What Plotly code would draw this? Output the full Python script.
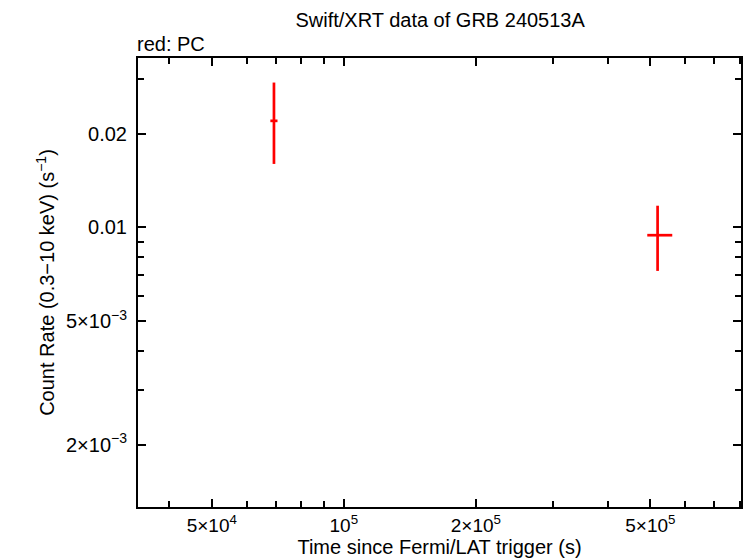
import plotly.graph_objects as go

# Swift/XRT PC mode points
t = [69300, 519400]
t_lo = [68000, 492000]
t_hi = [70600, 561000]
rate = [0.02198, 0.00943]
rate_lo = [0.01598, 0.00724]
rate_hi = [0.02918, 0.01173]

x_tickvals = [5e4, 1e5, 2e5, 5e5]
x_ticktext = ["5×10<sup>4</sup>", "10<sup>5</sup>", "2×10<sup>5</sup>", "5×10<sup>5</sup>"]
y_tickvals = [0.02, 0.01, 0.005, 0.002]
y_ticktext = ["0.02", "0.01", "5×10<sup>−3</sup>", "2×10<sup>−3</sup>"]

FONT = "Liberation Sans, Arial, sans-serif"

fig = go.Figure()
fig.add_trace(
    go.Scatter(
        x=t,
        y=rate,
        mode="markers",
        marker=dict(size=1, color="red"),
        error_x=dict(
            type="data", symmetric=False,
            array=[h - v for h, v in zip(t_hi, t)],
            arrayminus=[v - l for l, v in zip(t_lo, t)],
            color="red", thickness=2.7, width=0,
        ),
        error_y=dict(
            type="data", symmetric=False,
            array=[h - v for h, v in zip(rate_hi, rate)],
            arrayminus=[v - l for l, v in zip(rate_lo, rate)],
            color="red", thickness=2.7, width=0,
        ),
        showlegend=False,
    )
)

axis_common = dict(
    type="log",
    showgrid=False,
    zeroline=False,
    showline=True,
    linecolor="black",
    linewidth=2,
    mirror="allticks",
    ticks="inside",
    ticklen=8,
    tickwidth=2,
    tickcolor="black",
)

fig.update_xaxes(
    **axis_common,
    range=[4.5307, 5.9057],
    tickvals=x_tickvals,
    ticktext=x_ticktext,
    tickfont=dict(family=FONT, size=19, color="black"),
    minor=dict(ticks="inside", ticklen=6, tickwidth=2, tickcolor="black",
               tickvals=[4e4, 6e4, 7e4, 8e4, 9e4, 3e5, 4e5, 6e5, 7e5, 8e5]),
    title=dict(text="Time since Fermi/LAT trigger (s)",
               font=dict(family=FONT, size=20, color="black"), standoff=2),
)
fig.update_yaxes(
    **axis_common,
    range=[-2.899, -1.456],
    tickvals=y_tickvals,
    ticktext=y_ticktext,
    tickfont=dict(family=FONT, size=20, color="black"),
    ticklabelstandoff=5,
    minor=dict(ticks="inside", ticklen=6, tickwidth=2, tickcolor="black",
               tickvals=[0.03, 0.009, 0.008, 0.007, 0.006, 0.004, 0.003]),
    title=dict(text="Count Rate (0.3−10 keV) (s<sup>−1</sup>)",
               font=dict(family=FONT, size=20, color="black"), standoff=6),
)

fig.update_layout(
    width=746,
    height=558,
    margin=dict(l=138, r=3, t=58, b=51),
    paper_bgcolor="white",
    plot_bgcolor="white",
    title=dict(text="Swift/XRT data of GRB 240513A", x=0.59, xanchor="center",
               y=0.964, yanchor="middle",
               font=dict(family=FONT, size=20, color="black")),
    annotations=[
        dict(text="red: PC", xref="paper", yref="paper", x=0, y=1.0,
             xanchor="left", yanchor="bottom", yshift=1, xshift=-3, showarrow=False,
             font=dict(family=FONT, size=20, color="black")),
    ],
)

fig.write_html("out.html", config={"displayModeBar": False},
               post_script="document.body.style.margin='0';")
